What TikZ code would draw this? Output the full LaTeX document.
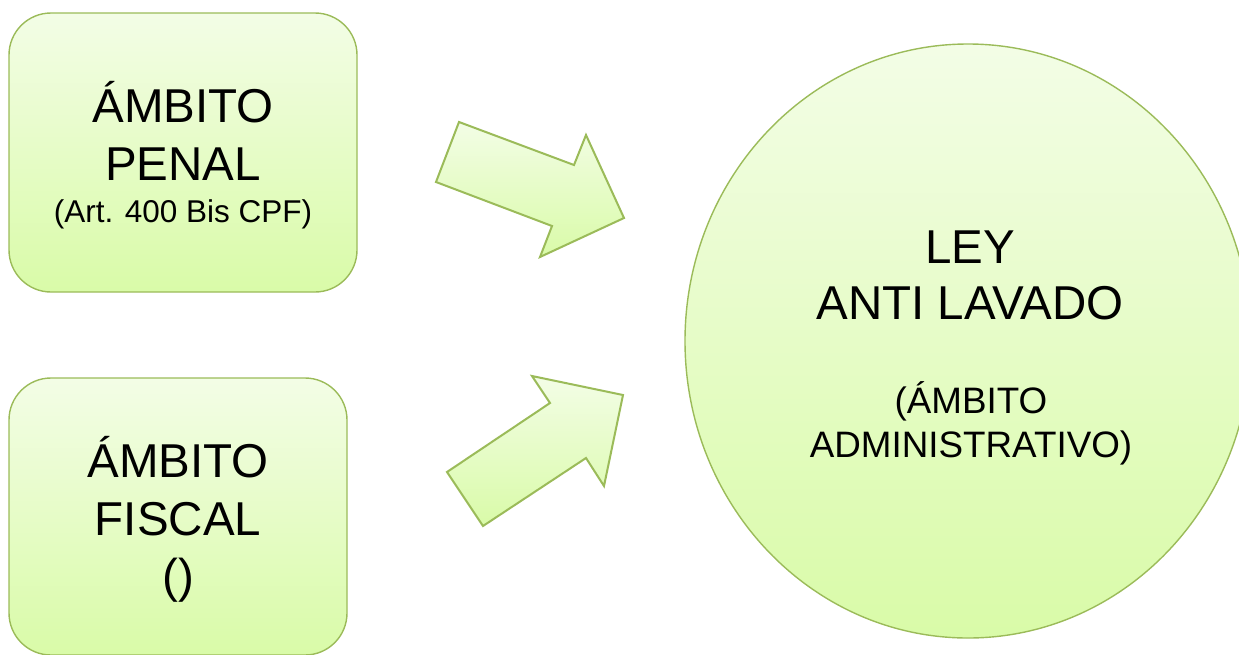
\documentclass[tikz,border=0pt]{standalone}
\usepackage{fontspec}
\setmainfont{Liberation Sans}
\usetikzlibrary{shapes.geometric}
\definecolor{edge}{RGB}{155,187,89}
\definecolor{filltop}{RGB}{243,253,230}
\definecolor{fillbot}{RGB}{217,251,168}
\begin{document}
\begin{tikzpicture}[x=1pt,y=-1pt,
  shapebox/.style={draw=edge, line width=1.4pt, top color=filltop, bottom color=fillbot,
    rounded corners=42pt, inner sep=0pt},
  blockarrow/.style={draw=edge, line width=2pt, top color=filltop, bottom color=fillbot, line join=miter},
  bigtxt/.style={anchor=base, inner sep=0pt, font=\fontsize{47.5}{56}\selectfont},
  midtxt/.style={anchor=base, inner sep=0pt, font=\fontsize{36.8}{44}\selectfont},
  smalltxt/.style={anchor=base, inner sep=0pt, font=\fontsize{31.5}{40}\selectfont}]
\useasboundingbox (0,0) rectangle (1239,654);
\clip (0,0) rectangle (1239,654);
% boxes
\node[shapebox, minimum width=348pt, minimum height=279pt] (penal) at (183,152.5) {};
\node[shapebox, minimum width=338pt, minimum height=277pt] (fiscal) at (178,516.5) {};
% ellipse
\node[ellipse, draw=edge, line width=1.4pt, top color=filltop, bottom color=fillbot,
  minimum width=566pt, minimum height=594pt, inner sep=0pt] (ley) at (968,341) {};
% arrows
\draw[blockarrow] (459,122) -- (574,165) -- (586,135) -- (624,218) -- (540,257) -- (552,226) -- (436,182) -- cycle;
\draw[blockarrow] (483,526) -- (586,458) -- (604,486) -- (623,395) -- (532,376) -- (550,403) -- (447,472) -- cycle;
% texts box 1
\node[bigtxt] (p1) at (183,122) {ÁMBITO};
\node[bigtxt] (p2) at (183,180) {PENAL};
\node[smalltxt] (p3) at (183,222) {(Art. 400 Bis CPF)};
% texts box 2
\node[bigtxt] (f1) at (178,477) {ÁMBITO};
\node[bigtxt] (f2) at (178,535) {FISCAL};
\node[bigtxt] (f3) at (178,592) {()};
% texts ellipse
\node[bigtxt] (l1) at (970,263) {LEY};
\node[bigtxt] (l2) at (970,319) {ANTI LAVADO};
\node[midtxt] (l3) at (971,413) {(ÁMBITO};
\node[midtxt] (l4) at (971,457) {ADMINISTRATIVO)};
\end{tikzpicture}
\end{document}
